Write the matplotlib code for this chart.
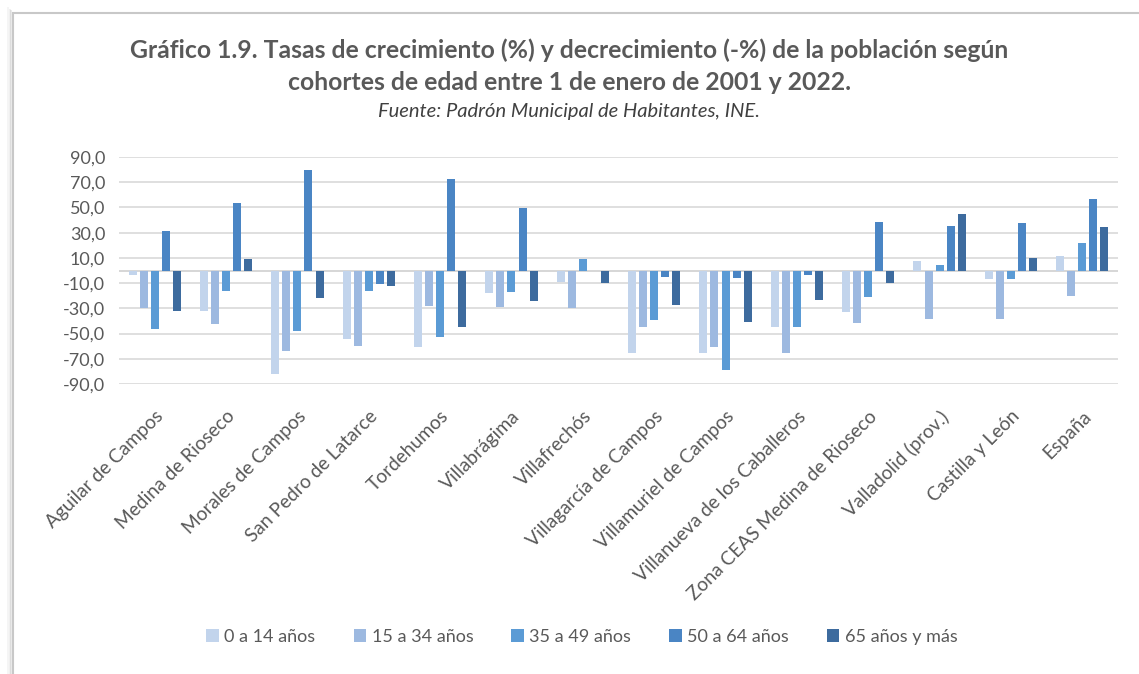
import numpy as np
import matplotlib.pyplot as plt
from matplotlib.patches import Rectangle
from matplotlib.ticker import FuncFormatter

# Data
municipios = ['Aguilar de Campos', 'Medina de Rioseco', 'Morales de Campos',
              'San Pedro de Latarce', 'Tordehumos', 'Villabrágima', 'Villafrechós',
              'Villagarcía de Campos', 'Villamuriel de Campos',
              'Villanueva de los Caballeros', 'Zona CEAS Medina de Rioseco',
              'Valladolid (prov.)', 'Castilla y León', 'España']
cohortes = ['0 a 14 años', '15 a 34 años', '35 a 49 años', '50 a 64 años', '65 años y más']

edad_0_14 = [-3.5, -32.0, -82.0, -54.4, -61.0, -17.9, -9.4, -65.5, -65.7, -45.0, -33.0, 7.8, -6.7, 11.7]
edad_15_34 = [-30.0, -42.5, -63.6, -59.7, -28.4, -29.2, -30.0, -44.6, -60.5, -65.7, -41.4, -38.5, -38.5, -20.0]
edad_35_49 = [-46.4, -16.0, -47.8, -16.0, -52.5, -16.8, 9.1, -39.3, -79.0, -44.6, -20.8, 4.6, -6.7, 21.8]
edad_50_64 = [31.3, 53.6, 80.0, -10.7, 72.6, 49.4, 0.0, -4.9, -6.0, -3.3, 38.2, 35.6, 37.4, 56.7]
edad_65_mas = [-32.4, 9.0, -22.0, -12.0, -44.6, -24.2, -10.2, -27.1, -40.6, -23.0, -10.2, 44.6, 10.2, 34.3]

series = [edad_0_14, edad_15_34, edad_35_49, edad_50_64, edad_65_mas]
colores = ['#C2D4EC', '#9DB9E0', '#5B9BD5', '#4A85C4', '#3D6B9E']

txt = '#595959'
plt.rcParams['font.family'] = ['Lato', 'DejaVu Sans']

fig = plt.figure(figsize=(11.39, 6.74), dpi=100)
W, H = 1139, 674

# chart frame with a soft shadow on the left
for i, a in enumerate([0.04, 0.06, 0.08, 0.10]):
    off = 6 - i * 1.5
    fig.patches.append(Rectangle(((13 - off) / W, 0), 2 / W, (H - 13 + off) / H,
                                 transform=fig.transFigure, facecolor='black',
                                 alpha=a, edgecolor='none', zorder=-2))
fig.patches.append(Rectangle((13 / W, -0.1), 1.2, 1.1 - 13 / H,
                             transform=fig.transFigure, facecolor='white',
                             edgecolor='#C8C8C8', linewidth=1.5, zorder=-1))

ax = fig.add_axes([119 / W, 1 - 384 / H, (1118 - 119) / W, (384 - 157) / H])
ax.set_facecolor('none')

x = np.arange(len(municipios))
paso = 0.155
ancho = 0.112
for i, (vals, col, lab) in enumerate(zip(series, colores, cohortes)):
    ax.bar(x + (i - 2) * paso, vals, width=ancho, color=col, label=lab, zorder=3)

ax.set_xlim(-0.5, len(municipios) - 0.5)
ax.set_ylim(-90, 90)
ax.set_yticks(np.arange(-90, 91, 20))
ax.yaxis.set_major_formatter(FuncFormatter(lambda v, p: f'{v:.1f}'.replace('.', ',')))
ax.grid(axis='y', color='#D9D9D9', linewidth=1.2, zorder=0)
ax.axhline(0, color='#D0D0D0', linewidth=1.2, zorder=2)
for s in ax.spines.values():
    s.set_visible(False)
ax.tick_params(axis='y', length=0, labelsize=13, labelcolor=txt, pad=10)
ax.tick_params(axis='x', length=0, labelsize=13.8, labelcolor=txt, pad=17)
ax.set_xticks(x)
ax.set_xticklabels(municipios, rotation=45, ha='right', va='top', rotation_mode='anchor')

fig.text(0.5, 1 - 50 / H, 'Gráfico 1.9. Tasas de crecimiento (%) y decrecimiento (-%) de la población según',
         ha='center', va='center', fontsize=17.8, fontweight='bold', color=txt)
fig.text(0.5, 1 - 82 / H, 'cohortes de edad entre 1 de enero de 2001 y 2022.',
         ha='center', va='center', fontsize=17.8, fontweight='bold', color=txt)
fig.text(0.5, 1 - 112 / H, 'Fuente: Padrón Municipal de Habitantes, INE.',
         ha='center', va='center', fontsize=14.5, style='italic', color='#404040')

fig.legend(loc='center', bbox_to_anchor=(582 / W, 1 - 637 / H), ncol=5, frameon=False,
           fontsize=13, labelcolor=txt, handlelength=0.7, handleheight=0.7,
           handletextpad=0.3, columnspacing=2.1)

fig.savefig('out.png', dpi=100)
